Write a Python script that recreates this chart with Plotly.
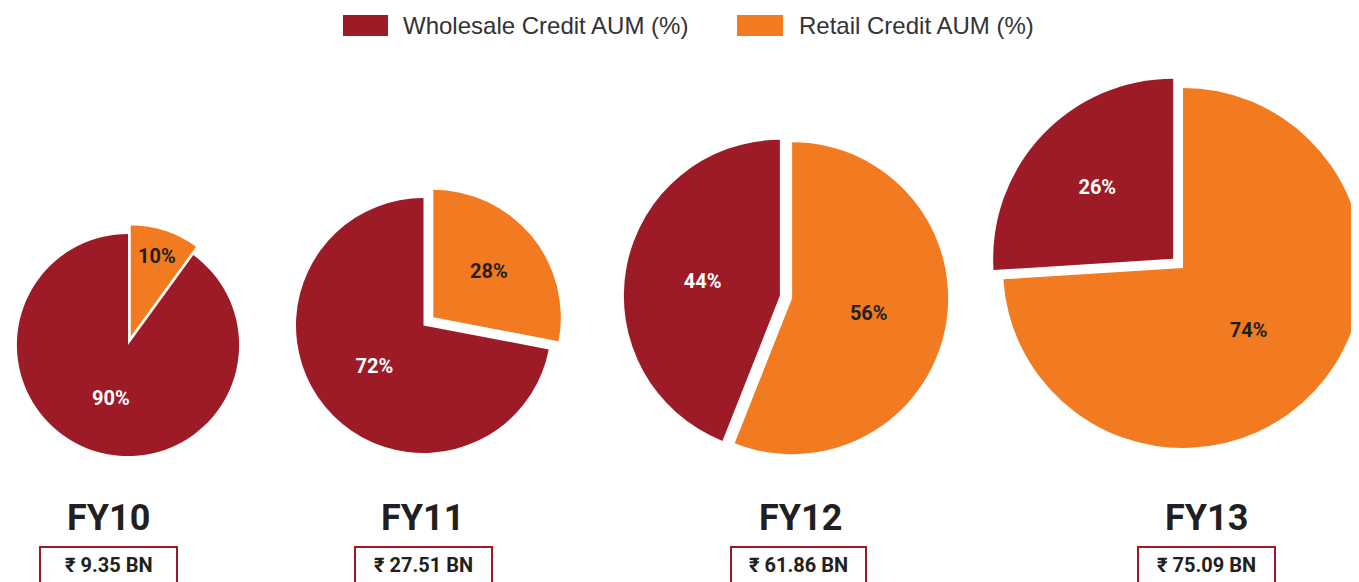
import plotly.graph_objects as go

# data
years = ["FY10", "FY11", "FY12", "FY13"]
segments = ["Wholesale Credit AUM (%)", "Retail Credit AUM (%)"]
wholesale = [90, 72, 44, 26]
retail = [10, 28, 56, 74]
aum_bn = [9.35, 27.51, 61.86, 75.09]

# layout (screen pixels; the page body adds an 8px margin)
OFF = 8
W, H = 1400, 590
MAROON = "#9d1b26"
ORANGE = "#f27b21"
INK = "#231f20"
BOLD = "Roboto, DejaVu Sans Condensed, Noto Sans"

pie_cx = [128, 423.5, 786, 1183]
pie_cy = [345, 325.5, 297, 268]
pie_r = [112, 127.5, 156, 180]
# pull for (retail, wholesale) slices
pie_pull = [[0.08, 0], [0.10, 0], [0.04, 0.04], [0, 0.075]]
label_cx = [108, 422, 800, 1206]
box_x = [(40, 177), (355, 492), (731, 866), (1138, 1275)]


def px_x(x):
    return (x - OFF) / W


def px_y(y):
    return 1 - (y - OFF) / H


def domain(cx, cy, r, pull):
    big = r * (1 + max(pull))
    hw = min(big, cx - OFF, W + OFF - cx)
    return dict(x=[px_x(cx - hw), px_x(cx + hw)],
                y=[px_y(cy + big), px_y(cy - big)])


fig = go.Figure()
for i, yr in enumerate(years):
    # retail slice first so it starts at 12 o'clock and runs clockwise
    fig.add_pie(
        labels=[segments[1], segments[0]], values=[retail[i], wholesale[i]], name=yr,
        sort=False, direction="clockwise", rotation=0,
        pull=pie_pull[i], domain=domain(pie_cx[i], pie_cy[i], pie_r[i], pie_pull[i]),
        marker=dict(colors=[ORANGE, MAROON], line=dict(width=0)),
        texttemplate="%{value}%", textposition="inside",
        insidetextorientation="horizontal",
        textfont=dict(family=BOLD, size=20, weight="bold", color=[INK, "white"]),
        hovertemplate=yr + " %{label}: %{value}%<extra></extra>",
        showlegend=False,
    )

shapes, notes = [], []
# legend
for (x0, x1), tx, lab, col in [((343, 388), 401, segments[0], MAROON),
                               ((737, 783), 797, segments[1], ORANGE)]:
    shapes.append(dict(type="rect", xref="paper", yref="paper",
                       x0=px_x(x0), x1=px_x(x1), y0=px_y(36), y1=px_y(15),
                       fillcolor=col, line=dict(width=0)))
    notes.append(dict(text=lab, x=px_x(tx), y=px_y(25.5), xref="paper", yref="paper",
                      xanchor="left", yanchor="middle", showarrow=False,
                      font=dict(family="Liberation Sans", size=24, color="#333333")))

# year labels and AUM boxes
for i, yr in enumerate(years):
    notes.append(dict(text=yr, x=px_x(label_cx[i]), y=px_y(518), xref="paper", yref="paper",
                      xanchor="center", yanchor="middle", showarrow=False,
                      font=dict(family=BOLD, size=36, weight="bold", color=INK)))
    x0, x1 = box_x[i]
    shapes.append(dict(type="rect", xref="paper", yref="paper",
                       x0=px_x(x0), x1=px_x(x1), y0=px_y(600), y1=px_y(547),
                       fillcolor="white", line=dict(color=MAROON, width=2)))
    notes.append(dict(text=f"\u20b9 {aum_bn[i]:.2f} BN", x=px_x((x0 + x1) / 2), y=px_y(565),
                      xref="paper", yref="paper", xanchor="center", yanchor="middle",
                      showarrow=False,
                      font=dict(family=BOLD, size=20, weight="bold", color=INK)))

fig.update_layout(
    width=W, height=H, margin=dict(l=0, r=0, t=0, b=0),
    paper_bgcolor="white", plot_bgcolor="white",
    shapes=shapes, annotations=notes,
)

fig.write_html("out.html")
